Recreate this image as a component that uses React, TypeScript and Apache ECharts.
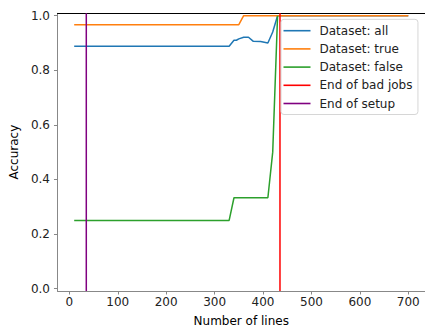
import React, { useEffect, useRef } from "react";
import * as echarts from "echarts";

const allX = [10, 330, 340, 345, 350, 360, 370, 380, 395, 410, 420, 430, 700];
const allY = [0.888, 0.888, 0.91, 0.91, 0.915, 0.921, 0.921, 0.906, 0.905, 0.9, 0.94, 1.0, 1.0];
const trueX = [10, 350, 360, 700];
const trueY = [0.967, 0.967, 1.0, 1.0];
const falseX = [10, 330, 340, 410, 420, 430];
const falseY = [0.25, 0.25, 0.333, 0.333, 0.5, 1.0];
const badJobsEnd = 435;
const setupEnd = 35;
const xTicks = [0, 100, 200, 300, 400, 500, 600, 700];
const yTicks = [0, 0.2, 0.4, 0.6, 0.8, 1.0];
const seriesNames = ["Dataset: all", "Dataset: true", "Dataset: false", "End of bad jobs", "End of setup"];

const X_MIN = -24.5;
const X_MAX = 734.5;
const Y_MIN = -0.0087;
const Y_MAX = 1.0087;

const FONT = "DejaVu Sans";

function zip(xs: number[], ys: number[]) {
  return xs.map((x, i) => [x, ys[i]]);
}

export default function App() {
  const ref = useRef<HTMLDivElement>(null);
  useEffect(() => {
    document.body.style.margin = "0";
    const chart = echarts.init(ref.current!, null, { renderer: "svg" });
    const lineBase = (name: string, color: string, data: number[][]) => ({
      name,
      type: "line",
      data,
      symbol: "none",
      showSymbol: false,
      clip: true,
      lineStyle: { color, width: 1.5 },
      itemStyle: { color },
    });
    chart.setOption({
      animation: false,
      textStyle: { fontFamily: FONT },
      grid: { left: 54.5, right: -2.1, top: 13.3, bottom: 332 - 291.7, containLabel: false },
      xAxis: [
        {
          type: "value",
          min: X_MIN,
          max: X_MAX,
          position: "bottom",
          name: "Number of lines",
          nameLocation: "middle",
          nameGap: 24,
          nameTextStyle: { fontFamily: FONT, fontSize: 12, color: "#000" },
          axisLine: { show: true, onZero: false, lineStyle: { color: "#888", width: 1 } },
          axisTick: { show: true, length: 3.5, customValues: xTicks, lineStyle: { color: "#888", width: 1 } },
          axisLabel: {
            customValues: xTicks,
            margin: 5,
            fontFamily: FONT,
            fontSize: 12,
            color: "#222",
            formatter: (v: number) => String(v),
          },
          splitLine: { show: false },
        },
        {
          type: "value",
          min: X_MIN,
          max: X_MAX,
          position: "top",
          axisLine: { show: true, onZero: false, lineStyle: { color: "#000", width: 1 } },
          axisTick: { show: false },
          axisLabel: { show: false },
          splitLine: { show: false },
        },
      ],
      yAxis: {
        type: "value",
        min: Y_MIN,
        max: Y_MAX,
        name: "Accuracy",
        nameLocation: "middle",
        nameGap: 30,
        nameTextStyle: { fontFamily: FONT, fontSize: 12, color: "#000" },
        axisLine: { show: true, onZero: false, lineStyle: { color: "#888", width: 1 } },
        axisTick: { show: true, length: 3.5, customValues: yTicks, lineStyle: { color: "#888", width: 1 } },
        axisLabel: {
          customValues: yTicks,
          margin: 7.5,
          fontFamily: FONT,
          fontSize: 12,
          color: "#222",
          formatter: (v: number) => v.toFixed(1),
        },
        splitLine: { show: false },
      },
      legend: {
        orient: "vertical",
        left: 281,
        top: 19.3,
        data: seriesNames,
        icon: "rect",
        itemWidth: 27,
        itemHeight: 1.6,
        itemGap: 4.2,
        padding: [4.4, 5.5, 4, 2.5],
        backgroundColor: "rgba(255,255,255,0.8)",
        borderColor: "#d6d6d6",
        borderWidth: 1,
        borderRadius: 3,
        textStyle: { fontFamily: FONT, fontSize: 12, color: "#222", lineHeight: 14, padding: [0, 0, 0, 4] },
      },
      series: [
        lineBase(seriesNames[0], "#1f77b4", zip(allX, allY)),
        lineBase(seriesNames[1], "#ff7f0e", zip(trueX, trueY)),
        lineBase(seriesNames[2], "#2ca02c", zip(falseX, falseY)),
        lineBase(seriesNames[3], "#ff0000", [[badJobsEnd, Y_MIN], [badJobsEnd, Y_MAX]]),
        lineBase(seriesNames[4], "#800080", [[setupEnd, Y_MIN], [setupEnd, Y_MAX]]),
      ],
    });
    return () => chart.dispose();
  }, []);
  return <div ref={ref} style={{ width: 425, height: 332, position: "absolute", left: 0, top: 0 }} />;
}
